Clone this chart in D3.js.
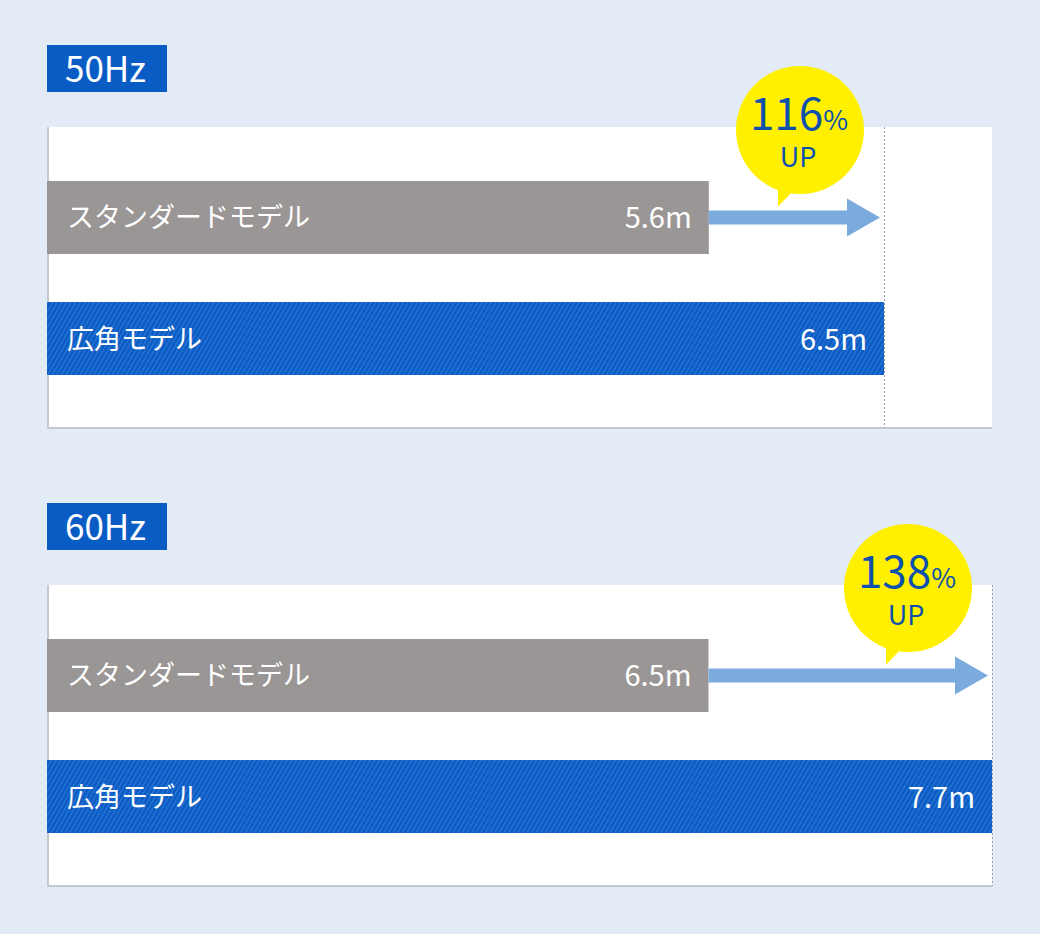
<!DOCTYPE html>
<html lang="ja">
<head>
  <meta charset="UTF-8">
  <title>50Hz / 60Hz</title>
  <style>
    body { margin: 0; background: #e3ebf6; overflow: hidden; }
    svg { display: block; font-family: "Noto Sans CJK JP", "Noto Sans", sans-serif; }
  </style>
</head>
<body>
  <script src="https://cdn.jsdelivr.net/npm/d3@7"></script>
  <script>
    const panels = ["50Hz", "60Hz"];
    const models = ["スタンダードモデル", "広角モデル"];
    const standardValues = [5.6, 6.5];
    const wideValues = [6.5, 7.7];
    const upRates = [116, 138];
    const axisStart = [2.2, 3.7];

    const width = 1040, height = 934;
    const left = 47, right = 992;
    const panelTop = [127, 585];
    const panelH = 301;

    const svg = d3.select("body").append("svg").attr("width", width).attr("height", height);
    svg.append("rect").attr("width", width).attr("height", height).attr("fill", "#e3ebf6");

    // 斜線パターン
    const defs = svg.append("defs");
    const pat = defs.append("pattern")
      .attr("id", "stripe").attr("patternUnits", "userSpaceOnUse")
      .attr("width", 4).attr("height", 4)
      .attr("patternTransform", "rotate(30)");
    pat.append("rect").attr("width", 4).attr("height", 4).attr("fill", "#0a5cc5");
    pat.append("rect").attr("width", 1.3).attr("height", 4).attr("fill", "#2b74d3");

    panels.forEach((p, i) => {
      const top = panelTop[i];
      const x = d3.scaleLinear().domain([axisStart[i], wideValues[i]]).range([left, i === 0 ? 884 : right]);
      const y = d3.scaleBand().domain(models).range([top + 54, top + 248]).paddingInner(0.397);

      const g = svg.append("g");

      // 見出し
      g.append("rect").attr("x", left).attr("y", top - 82).attr("width", 120).attr("height", 47).attr("fill", "#0a5cc5");
      g.append("text").attr("x", left + 18).attr("y", top - 45)
        .attr("fill", "#fff").attr("font-size", 35).text(p);

      // パネル
      g.append("rect").attr("x", left).attr("y", top).attr("width", right - left).attr("height", panelH).attr("fill", "#fff");
      g.append("line").attr("x1", left + 1).attr("x2", left + 1).attr("y1", top).attr("y2", top + panelH)
        .attr("stroke", "#c3c8d2").attr("stroke-width", 2);
      g.append("line").attr("x1", left).attr("x2", right).attr("y1", top + panelH).attr("y2", top + panelH)
        .attr("stroke", "#c3c8d2").attr("stroke-width", 2);

      // 点線
      const xMax = x(wideValues[i]);
      g.append("line").attr("x1", xMax + 0.5).attr("x2", xMax + 0.5).attr("y1", top).attr("y2", top + panelH)
        .attr("stroke", "#9aa0a8").attr("stroke-width", 1).attr("stroke-dasharray", "2,2");

      const bars = [
        { name: models[0], value: standardValues[i], fill: "#9a9696" },
        { name: models[1], value: wideValues[i], fill: "url(#stripe)" }
      ];

      g.selectAll(".bar").data(bars).join("rect")
        .attr("x", left).attr("y", d => y(d.name))
        .attr("width", d => x(d.value) - left).attr("height", y.bandwidth())
        .attr("fill", d => d.fill);

      g.selectAll(".name").data(bars).join("text")
        .attr("x", left + 20).attr("y", d => y(d.name) + y.bandwidth() / 2 + 10)
        .attr("fill", "#fff").attr("font-size", 27).text(d => d.name);

      g.selectAll(".val").data(bars).join("text")
        .attr("x", d => x(d.value) - 17).attr("y", d => y(d.name) + y.bandwidth() / 2 + 11)
        .attr("text-anchor", "end").attr("fill", "#fff").attr("font-size", 29)
        .text(d => d.value + "m");

      // 矢印
      const ay = y(models[0]) + y.bandwidth() / 2;
      const x0 = x(standardValues[i]), x1 = xMax - 4;
      g.append("path")
        .attr("d", `M${x0},${ay - 7}H${x1 - 33}V${ay - 19}L${x1},${ay}L${x1 - 33},${ay + 19}V${ay + 7}H${x0}Z`)
        .attr("fill", "#7baade");

      // 吹き出し
      const cx = x1 - 80, cy = top + 3, r = 64;
      const tipX = cx - 22, tipY = ay - 11;
      g.append("path")
        .attr("d", `M${tipX},${cy + 45}L${tipX},${tipY}L${tipX + 24},${cy + 52}Z`)
        .attr("fill", "#fff000");
      g.append("circle").attr("cx", cx).attr("cy", cy).attr("r", r).attr("fill", "#fff000");

      const t = g.append("text").attr("x", cx - 1).attr("y", cy)
        .attr("text-anchor", "middle").attr("fill", "#0d50ad");
      t.append("tspan").attr("font-size", 44).text(upRates[i]);
      t.append("tspan").attr("font-size", 27).text("%");
      g.append("text").attr("x", cx - 2).attr("y", cy + 37)
        .attr("text-anchor", "middle").attr("fill", "#0d50ad").attr("font-size", 27).text("UP");
    });
  </script>
</body>
</html>
